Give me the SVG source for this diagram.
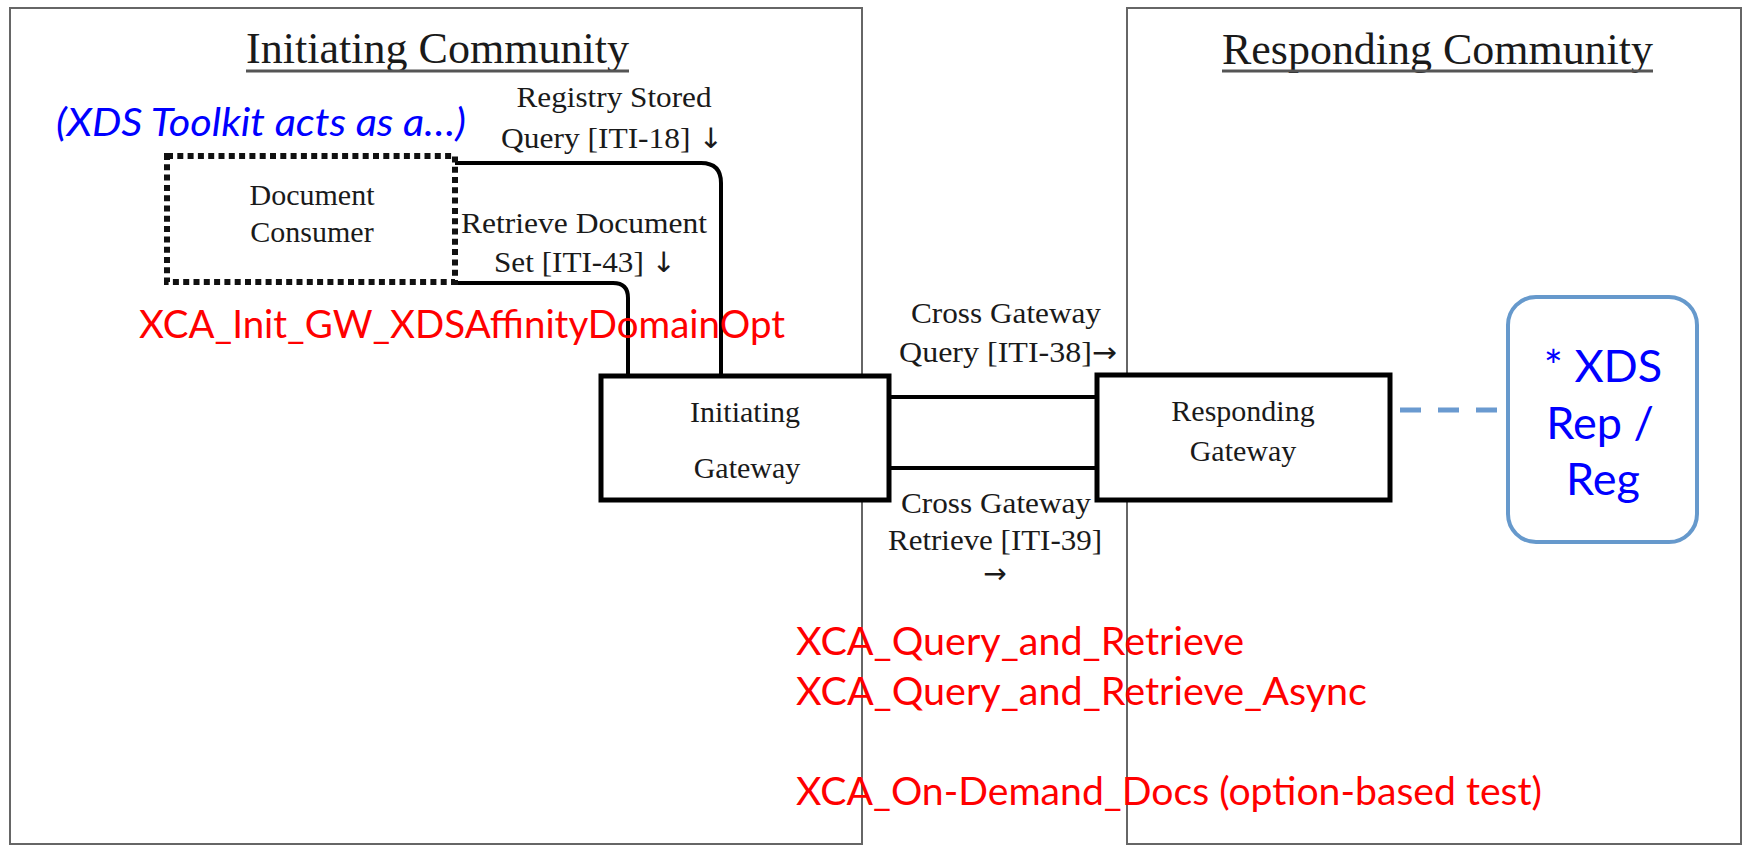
<svg xmlns="http://www.w3.org/2000/svg" width="1753" height="845" viewBox="0 0 1753 845">
  <style>
    .community { fill: #ffffff; stroke: #666666; stroke-width: 2; }
    .title { font-family: "Liberation Serif", "Times New Roman", serif; font-size: 44px; fill: #1a1a1a; text-anchor: middle; }
    .uline { stroke: #555555; stroke-width: 3; }
    .serif { font-family: "Liberation Serif", "Times New Roman", serif; font-size: 30px; fill: #1a1a1a; text-anchor: middle; }
    .arrow { font-family: "DejaVu Sans", sans-serif; font-size: 28px; }
    .actor { fill: #ffffff; stroke: #000000; stroke-width: 5; }
    .dotted { fill: #ffffff; stroke: #111111; stroke-width: 6; stroke-dasharray: 6 4.3; }
    .conn { fill: none; stroke: #000000; stroke-width: 4; }
    .red { font-family: Lato, "Open Sans", sans-serif; font-size: 38px; fill: #ff0000; }
    .blue { font-family: Lato, "Open Sans", sans-serif; font-size: 38px; fill: #0000ff; }
    .xdstext { font-family: Lato, "Open Sans", sans-serif; font-size: 45px; fill: #0000ff; text-anchor: middle; }
    .xds { fill: #ffffff; stroke: #6699cc; stroke-width: 4; }
    .dash { stroke: #6a9ad0; stroke-width: 5; stroke-dasharray: 21 17; fill: none; }
  </style>

  <rect width="1753" height="845" fill="#ffffff"/>

  <g id="initiating-community">
    <rect class="community" x="10" y="8" width="852" height="836"/>
    <text class="title" x="437.5" y="63" textLength="383" lengthAdjust="spacingAndGlyphs">Initiating Community</text>
    <line class="uline" x1="246" y1="71" x2="629" y2="71"/>
  </g>

  <g id="responding-community">
    <rect class="community" x="1127" y="8" width="614" height="836"/>
    <text class="title" x="1437.5" y="64" textLength="431" lengthAdjust="spacingAndGlyphs">Responding Community</text>
    <line class="uline" x1="1222" y1="71" x2="1653" y2="71"/>
  </g>

  <g id="connectors">
    <path class="conn" d="M 455 163 H 701 Q 721 163 721 183 V 377"/>
    <path class="conn" d="M 455 283 H 613 Q 628 283 628 298 V 377"/>
    <line class="conn" x1="889" y1="397" x2="1097" y2="397"/>
    <line class="conn" x1="889" y1="468" x2="1097" y2="468"/>
    <line class="dash" x1="1400" y1="410" x2="1497" y2="410"/>
  </g>

  <g id="connector-labels">
    <text class="serif" x="614" y="107" textLength="195" lengthAdjust="spacingAndGlyphs">Registry Stored</text>
    <text class="serif" x="612" y="148" textLength="222" lengthAdjust="spacingAndGlyphs">Query [ITI-18] <tspan class="arrow">↓</tspan></text>
    <text class="serif" x="584" y="233" textLength="246" lengthAdjust="spacingAndGlyphs">Retrieve Document</text>
    <text class="serif" x="585" y="272" textLength="182" lengthAdjust="spacingAndGlyphs">Set [ITI-43] <tspan class="arrow">↓</tspan></text>
    <text class="serif" x="1006" y="323" textLength="190" lengthAdjust="spacingAndGlyphs">Cross Gateway</text>
    <text class="serif" x="1008" y="362" textLength="218" lengthAdjust="spacingAndGlyphs">Query [ITI-38]<tspan class="arrow">→</tspan></text>
    <text class="serif" x="996" y="513" textLength="190" lengthAdjust="spacingAndGlyphs">Cross Gateway</text>
    <text class="serif" x="995" y="550" textLength="214" lengthAdjust="spacingAndGlyphs">Retrieve [ITI-39]</text>
    <text class="serif" x="995" y="583"><tspan class="arrow">→</tspan></text>
  </g>

  <g id="document-consumer">
    <rect class="dotted" x="167" y="156" width="288" height="126"/>
    <text class="serif" x="312" y="205">Document</text>
    <text class="serif" x="312" y="242">Consumer</text>
  </g>

  <g id="toolkit-note">
    <text class="blue" x="56" y="136" font-style="italic" textLength="410" lengthAdjust="spacingAndGlyphs">(XDS Toolkit acts as a…)</text>
  </g>

  <g id="initiating-gateway">
    <rect class="actor" x="601" y="376" width="288" height="124"/>
    <text class="serif" x="745" y="422">Initiating</text>
    <text class="serif" x="747" y="478">Gateway</text>
  </g>

  <g id="responding-gateway">
    <rect class="actor" x="1097" y="375" width="293" height="125"/>
    <text class="serif" x="1243" y="421">Responding</text>
    <text class="serif" x="1243" y="461">Gateway</text>
  </g>

  <g id="xds-rep-reg">
    <rect class="xds" x="1508" y="297" width="189" height="245" rx="28" ry="28"/>
    <text class="xdstext" x="1603" y="382">* XDS</text>
    <text class="xdstext" x="1600" y="439">Rep /</text>
    <text class="xdstext" x="1603" y="495">Reg</text>
  </g>

  <g id="test-labels">
    <text class="red" x="139" y="338" textLength="646" lengthAdjust="spacingAndGlyphs">XCA_Init_GW_XDSAffinityDomainOpt</text>
    <text class="red" x="796" y="655" textLength="448" lengthAdjust="spacingAndGlyphs">XCA_Query_and_Retrieve</text>
    <text class="red" x="796" y="705" textLength="571" lengthAdjust="spacingAndGlyphs">XCA_Query_and_Retrieve_Async</text>
    <text class="red" x="796" y="805" textLength="746" lengthAdjust="spacingAndGlyphs">XCA_On-Demand_Docs (option-based test)</text>
  </g>
</svg>
